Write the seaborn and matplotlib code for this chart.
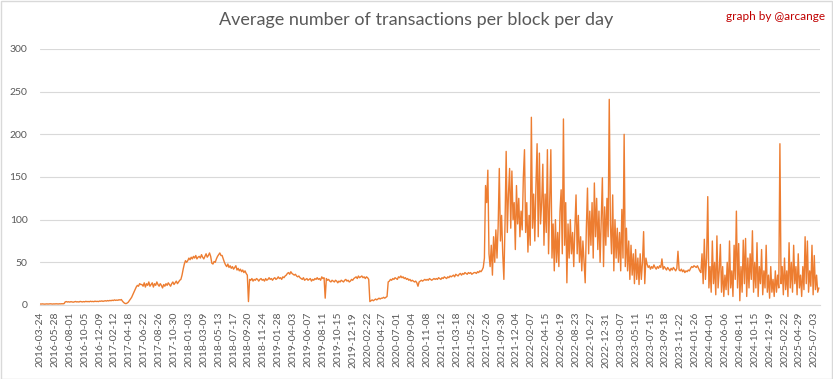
import numpy as np
import pandas as pd
import matplotlib
matplotlib.use("Agg")
import matplotlib.pyplot as plt
from matplotlib.patches import Rectangle
import seaborn as sns

# Category tick labels (every 65th day)
tick_labels = [
    "2016-03-24", "2016-05-28", "2016-08-01", "2016-10-05", "2016-12-09",
    "2017-02-12", "2017-04-18", "2017-06-22", "2017-08-26", "2017-10-30",
    "2018-01-03", "2018-03-09", "2018-05-13", "2018-07-17", "2018-09-20",
    "2018-11-24", "2019-01-28", "2019-04-03", "2019-06-07", "2019-08-11",
    "2019-10-15", "2019-12-19", "2020-02-22", "2020-04-27", "2020-07-01",
    "2020-09-04", "2020-11-08", "2021-01-12", "2021-03-18", "2021-05-22",
    "2021-07-26", "2021-09-30", "2021-12-04", "2022-02-07", "2022-04-15",
    "2022-06-19", "2022-08-23", "2022-10-27", "2022-12-31", "2023-03-07",
    "2023-05-11", "2023-07-15", "2023-09-18", "2023-11-22", "2024-01-26",
    "2024-04-01", "2024-06-06", "2024-08-11", "2024-10-15", "2024-12-19",
    "2025-02-22", "2025-04-29", "2025-07-03",
]
tick_every_days = 65
sample_step_days = 5

tx_early = [
    1.2, 1.1, 1.3, 1.2, 1.0, 1.2, 1.3, 1.1, 1.2, 1.4, 1.2, 1.1, 1.3, 1.2, 1.4, 1.3, 1.2, 1.4, 1.3, 1.5, 1.4, 1.6,
    3.6, 4.0, 3.5, 3.8, 3.4, 3.9, 3.6, 3.3, 3.7, 4.1, 3.6, 3.8, 3.5, 4.2, 3.9, 3.6, 4.0, 3.7, 4.3, 3.9, 4.1, 3.8,
    4.4, 4.0, 4.2, 3.9, 4.5, 4.1, 4.3, 4.0, 4.6, 4.4, 4.8, 4.3, 4.7, 5.0, 4.6, 5.2, 4.8, 5.4, 5.0, 5.6, 5.2, 6.0,
    5.4, 5.8, 5.5, 6.2, 5.8, 6.4,
    4.5, 3.0, 2.0, 1.6, 2.2, 3.2, 5.0,
    7, 9, 12, 15, 18, 21, 23, 22, 25, 24,
    24, 22, 26, 21, 25, 23, 27, 22, 24, 26, 21, 25, 23, 27, 24, 22, 25, 23, 20, 24, 22, 25, 23, 26, 24, 22, 25,
    27, 24, 26, 28, 25, 27, 29, 30,
    35, 42, 48, 52, 50,
]
tx_plateau = [
    52, 55, 53, 56, 54, 57, 55, 58, 54, 56, 57, 55, 59, 56, 54, 57, 60, 56, 58, 61, 57, 49, 48, 51, 50, 54, 57,
    59, 61, 58,
    58, 54, 50, 47, 45, 48, 44, 46, 43, 45, 42, 44, 46, 41, 43, 40, 42, 39, 41, 38, 40, 37, 35,
    4,
    30, 29, 31, 28, 30, 29, 31, 30, 28, 30, 31, 29, 30, 28, 31, 29, 30, 32, 30, 31, 29, 31, 32, 30, 31, 33, 31,
    32, 30, 33, 32,
    34, 35, 37, 38, 36, 39, 37, 36, 35, 36, 34, 33, 34, 32,
    31, 30, 32, 29, 30, 31, 29, 30, 31, 28, 30, 29, 31, 30, 32, 30, 31, 29, 33, 31, 32,
    8,
    31, 29, 30, 28, 27, 29, 28, 27, 29, 28, 26, 28, 27, 29, 28, 27, 29, 30, 28, 29, 27, 28, 30, 29, 31,
    32, 33, 31, 34, 32, 33, 34, 32, 33, 31, 33, 32, 30,
    4,
    5, 6, 5, 6, 7, 6, 7, 8, 7, 8, 8, 9, 8, 9, 10,
    27,
    28, 30, 29, 31, 30, 32, 31, 30, 33, 32, 34, 32, 33, 31, 32, 30, 31, 29, 30, 28, 29, 28, 27, 28, 26,
    22,
    27, 28, 29, 28, 29, 30, 29, 30, 29, 31, 30, 29, 30, 31, 30, 31, 30, 32, 31, 30, 32, 31, 33, 32, 31, 33, 32,
    34, 33,
    34, 35, 33, 36, 35, 34, 36, 37, 35, 37, 36, 38, 37, 36, 38, 37, 38, 36, 37, 38,
    38, 37, 39, 38, 40, 39, 41, 44, 55,
]
tx_boom = [
    140, 120, 158, 60, 45, 70, 35, 80, 50, 88,
    55, 92, 160, 75, 105, 60, 30, 95, 180, 85,
    130, 160, 90, 157, 100, 120, 65, 140, 95, 125,
    80, 110, 88, 150, 182, 85, 120, 62, 105, 70,
    220, 90, 130, 75, 140, 189, 80, 178, 95, 120,
    165, 70, 130, 85, 182, 60, 120, 182, 55, 95,
    40, 100, 50, 85, 45, 110, 135, 60, 218, 70,
    120, 26, 95, 55, 100, 60, 85, 45, 90, 129,
    60, 105, 50, 80, 40, 75, 50, 26, 90, 137,
    60, 110, 70, 120, 55, 143, 80, 125, 65, 110,
    50, 100, 149, 45, 115, 70, 125, 80, 241, 95,
    60, 129, 40, 100, 55, 90, 50, 85, 40, 112,
    55, 200, 45, 90, 40, 75, 30, 70, 35, 60,
    25, 65, 30, 55, 24, 60, 30, 50, 86, 25,
    55,
    48, 44, 46, 42, 45, 43, 47, 44, 42, 45, 43, 46, 44, 54, 42, 45, 43, 41, 44, 42,
    40, 43, 41, 44, 42, 40, 43, 63, 41, 40, 42, 39, 41, 38, 40, 39, 41, 40, 43, 45,
    44, 46, 45, 44, 46, 43, 40, 38,
]
tx_recent = [
    60, 25, 77, 30, 55, 127, 20, 45, 15, 75,
    25, 50, 12, 81, 20, 40, 71, 15, 45, 10,
    35, 18, 50, 12, 75, 20, 40, 10, 70, 30,
    110, 20, 72, 5, 45, 15, 76, 25, 78, 10,
    55, 20, 60, 30, 87, 15, 50, 20, 73, 10,
    45, 25, 65, 12, 40, 20, 70, 15, 35, 8,
    45, 15, 30, 10, 40, 15, 35, 20, 189, 25,
    45, 12, 55, 18, 40, 10, 73, 20, 50, 15,
    70, 25, 45, 12, 60, 20, 35, 10, 45, 18,
    80, 25, 75, 15, 40, 22, 70, 12, 58, 18,
    35, 15, 20,
]

values = tx_early + tx_plateau + tx_boom + tx_recent
df = pd.DataFrame({
    "day": np.arange(len(values)) * sample_step_days,
    "tx": values,
})

sns.set_style("white")
plt.rcParams["font.family"] = ["Lato", "DejaVu Sans"]

W, H = 833, 379
fig = plt.figure(figsize=(W / 100, H / 100), dpi=100)
ax = fig.add_axes([40 / W, 1 - 305 / H, 780 / W, 256 / H])

sns.lineplot(data=df, x="day", y="tx", color="#ED7D31", linewidth=1.0, ax=ax)

ax.set_xlim(0, 3405)
ax.set_ylim(0, 300)
ax.set_yticks(range(0, 301, 50))
ax.set_xticks(np.arange(len(tick_labels)) * tick_every_days)
ax.set_xticklabels(tick_labels, rotation=90, fontsize=7.5, color="#595959")
ax.tick_params(axis="y", labelsize=7.5, labelcolor="#595959", length=0, pad=9)
ax.tick_params(axis="x", length=0, pad=5)
ax.grid(axis="y", color="#d9d9d9", linewidth=0.8)
ax.grid(axis="x", visible=False)
ax.set_axisbelow(True)
for s in ["top", "right", "left"]:
    ax.spines[s].set_visible(False)
ax.spines["bottom"].set_color("#d9d9d9")
ax.spines["bottom"].set_linewidth(0.8)
ax.set_xlabel("")
ax.set_ylabel("")

fig.text(416 / W, 1 - 20 / H, "Average number of transactions per block per day",
         ha="center", va="center", fontsize=13, color="#595959", fontweight="normal")
fig.text(825 / W, 1 - 17 / H, "graph by @arcange", ha="right", va="center",
         fontsize=8.5, color="#c00000")

fig.patches.append(Rectangle((0.5 / W, 0.5 / H), 1 - 1.5 / W, 1 - 1.5 / H, transform=fig.transFigure,
                             fill=False, edgecolor="#d9d9d9", linewidth=1))

fig.savefig("out.png", dpi=100)
